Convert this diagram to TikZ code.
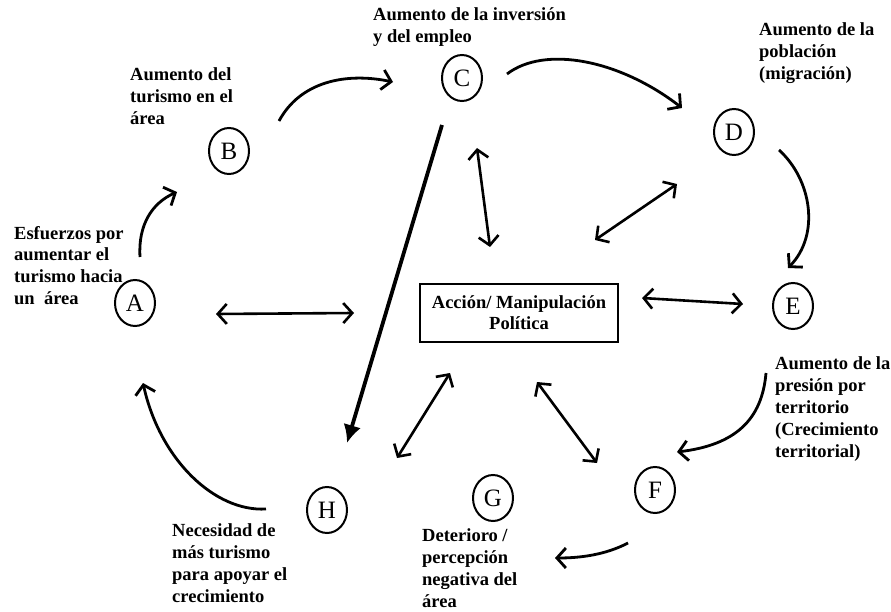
\documentclass[tikz,border=0pt]{standalone}
\usepackage{fontspec}
\setmainfont{Liberation Serif}
\usetikzlibrary{arrows.meta,shapes.geometric}
\tikzset{
  letter/.style={draw,ellipse,line width=2pt,minimum width=40pt,minimum height=46pt,inner sep=0pt,font=\fontsize{25}{25}\selectfont},
  lbl/.style={anchor=base west,align=left,inner sep=0pt,font=\bfseries\fontsize{18.5}{22}\selectfont},
  flow/.style={line width=2.8pt,-{Straight Barb[length=9pt,width=20pt]}},
  both/.style={line width=2.6pt,{Straight Barb[length=9pt,width=20pt]}-{Straight Barb[length=9pt,width=20pt]}},
  strong/.style={line width=3.8pt,-{Latex[length=18pt,width=18pt]}},
  polbox/.style={draw,line width=2.8pt,minimum width=198pt,minimum height=58pt,inner sep=0pt,align=center,font=\bfseries\fontsize{18.5}{21}\selectfont}
}
\begin{document}
\begin{tikzpicture}[x=1pt,y=-1pt]
\useasboundingbox (0,0) rectangle (891,612);
% circles
\node[letter] (A) at (135,303) {A};
\node[letter] (B) at (229,151) {B};
\node[letter] (C) at (462,78) {C};
\node[letter] (D) at (734,132) {D};
\node[letter] (E) at (793,306) {E};
\node[letter] (F) at (655,490) {F};
\node[letter] (G) at (493,498) {G};
\node[letter] (H) at (327,510) {H};
\node[polbox] (P) at (519,313) {Acción/ Manipulación\\Política};
% labels (anchored at the baseline of their last line)
\node[lbl] (lA) at (14,305) {Esfuerzos por\\aumentar el\\turismo hacia\\un\ \ área};
\node[lbl] (lB) at (130,125) {Aumento del\\turismo en el\\área};
\node[lbl] (lC) at (373,43) {Aumento de la inversión\\y del empleo};
\node[lbl] (lD) at (759,80) {Aumento de la\\población\\(migración)};
\node[lbl] (lE) at (775,457) {Aumento de la\\presión por\\territorio\\(Crecimiento\\territorial)};
\node[lbl] (lG) at (422,607) {Deterioro /\\percepción\\negativa del\\área};
\node[lbl] (lH) at (172,602) {Necesidad de\\más turismo\\para apoyar el\\crecimiento};
% connector ends
\coordinate (ab1) at (140,257); \coordinate (ab2) at (177,192);
\coordinate (bc1) at (279,121); \coordinate (bc2) at (393,82);
\coordinate (cd1) at (507,74);  \coordinate (cd2) at (682,108);
\coordinate (de1) at (779,150); \coordinate (de2) at (788,268);
\coordinate (ef1) at (766,373); \coordinate (ef2) at (677,452);
\coordinate (fg1) at (628,543); \coordinate (fg2) at (555,558);
\coordinate (ha1) at (266,509); \coordinate (ha2) at (143,383);
\coordinate (ch1) at (442,125); \coordinate (ch2) at (347,443);
\coordinate (ap1) at (216,314); \coordinate (ap2) at (354,313);
\coordinate (cp1) at (477,148); \coordinate (cp2) at (490,247);
\coordinate (dp1) at (677,184); \coordinate (dp2) at (595,240);
\coordinate (ep1) at (642,298); \coordinate (ep2) at (743,304);
\coordinate (fp1) at (537,382); \coordinate (fp2) at (597,463);
\coordinate (hp1) at (450,373); \coordinate (hp2) at (397,458);
% cycle arrows
\draw[flow] (ab1) .. controls (138,225) and (152,203) .. (ab2);
\draw[flow] (bc1) .. controls (300,82) and (345,72) .. (bc2);
\draw[flow] (cd1) .. controls (545,45) and (620,60) .. (cd2);
\draw[flow] (de1) .. controls (812,180) and (820,235) .. (de2);
\draw[flow] (ef1) .. controls (762,420) and (735,445) .. (ef2);
\draw[flow] (fg1) .. controls (605,555) and (580,558) .. (fg2);
\draw[flow] (ha1) .. controls (215,512) and (160,460) .. (ha2);
\draw[strong] (ch1) -- (ch2);
% double arrows
\draw[both] (ap1) -- (ap2);
\draw[both] (cp1) -- (cp2);
\draw[both] (dp1) -- (dp2);
\draw[both] (ep1) -- (ep2);
\draw[both] (fp1) -- (fp2);
\draw[both] (hp1) -- (hp2);
\end{tikzpicture}
\end{document}
